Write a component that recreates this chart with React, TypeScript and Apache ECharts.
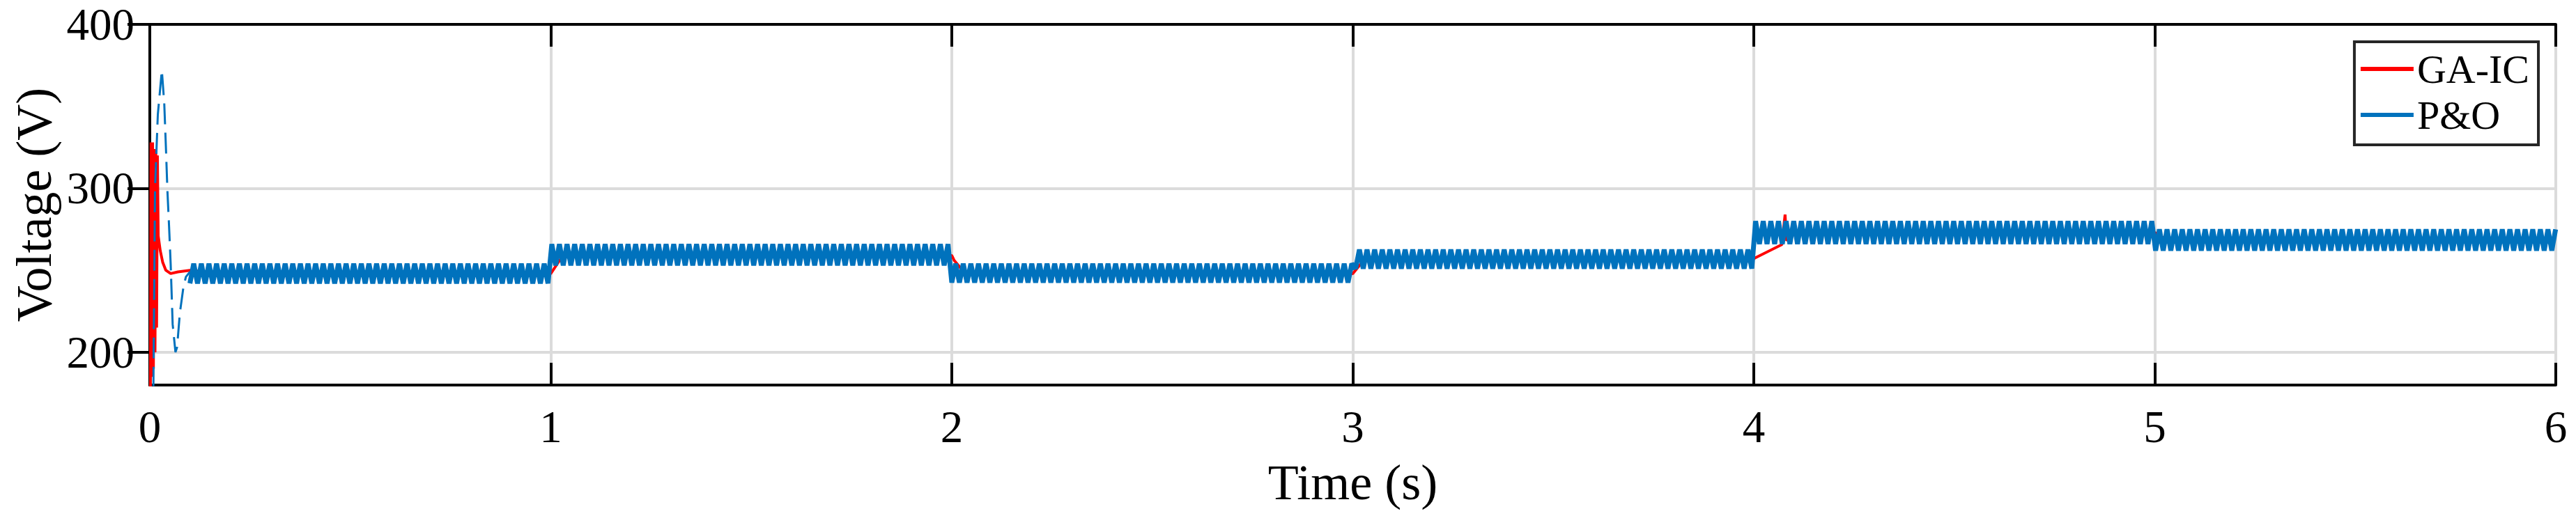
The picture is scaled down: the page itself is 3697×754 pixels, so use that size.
import React, { useEffect, useRef } from "react";
import * as echarts from "echarts";

// ---- axis ticks ----
const X_TICKS = [0, 1, 2, 3, 4, 5, 6];
const Y_TICKS = [200, 300, 400];
const Y_GRID = [200, 300];
const Y_MIN = 180;
const Y_MAX = 400;

// ---- GA-IC (red) keyframes: time (s) and voltage (V) ----
const GA_IC_T = [0, 0.003, 0.005, 0.007, 0.009, 0.011, 0.013, 0.015, 0.017, 0.019, 0.021, 0.026, 0.032, 0.04, 0.052, 0.07, 0.1, 0.2, 1.0, 1.03, 2.0, 2.006, 2.03, 2.05, 3.0, 3.03, 4.0, 4.003, 4.07, 4.078, 4.082, 4.09, 4.12, 5.0, 5.03, 6.0];
const GA_IC_V = [0, 328, 185, 328, 190, 324, 200, 322, 215, 320, 271, 262, 255, 250, 248, 249, 250, 248, 248, 259, 259, 256, 249, 248, 248, 257, 257, 257.5, 265.7, 284, 268, 271, 273, 273, 268.6, 268.6];

// ---- P&O (blue) start-up transient ----
const PO_START_T = [0, 0.009, 0.013, 0.02, 0.03, 0.036, 0.04, 0.044, 0.048, 0.052, 0.057, 0.064, 0.068, 0.075, 0.084, 0.09, 0.1];
const PO_START_V = [0, 180, 300, 345, 372, 352, 326, 298, 277, 254, 217, 200, 203, 224, 240, 246, 249];

// ---- P&O (blue) steady oscillation band per irradiance step ----
const PO_SEG_START = [0.1, 1, 2, 3, 4, 5];
const PO_LOW = [242, 253, 242.5, 251, 266, 262];
const PO_HIGH = [254, 266, 254, 262.6, 280, 275];
const PO_HALF_PERIOD = 0.0095; // perturbation step seen in the picture
const T_END = 6;

const FONT = "'Liberation Serif', 'Times New Roman', serif";

function buildPO(): number[][] {
  const pts: number[][] = [];
  let k = 0;
  for (let t = PO_SEG_START[0]; t <= T_END + 1e-9; t += PO_HALF_PERIOD) {
    let s = 0;
    for (let i = 0; i < PO_SEG_START.length; i++) if (t >= PO_SEG_START[i]) s = i;
    pts.push([t, k % 2 === 0 ? PO_LOW[s] : PO_HIGH[s]]);
    k++;
  }
  return pts;
}

export default function App() {
  const ref = useRef<HTMLDivElement>(null);
  useEffect(() => {
    if (!ref.current) return;
    const chart = echarts.init(ref.current, undefined, { renderer: "svg" });
    const red = GA_IC_T.map((t, i) => [t, GA_IC_V[i]]);
    const blueStart = PO_START_T.map((t, i) => [t, PO_START_V[i]]);
    const blue = buildPO();

    const frame = { show: true, lineStyle: { color: "#000", width: 4 } };
    const tick = { show: true, inside: true, length: 32, lineStyle: { color: "#000", width: 4 } };

    chart.setOption({
      animation: false,
      backgroundColor: "#fff",
      grid: { left: 215, right: 29, top: 35, bottom: 201, containLabel: false },
      legend: {
        data: [
          { name: "GA-IC", icon: "rect" },
          { name: "P&O", icon: "rect" },
        ],
        orient: "vertical",
        right: 54,
        top: 60,
        itemWidth: 76,
        itemHeight: 6,
        itemGap: 0,
        padding: [6, 13, 10, 9],
        borderColor: "#262626",
        borderWidth: 4,
        backgroundColor: "#fff",
        textStyle: { fontFamily: FONT, fontSize: 58, color: "#000", lineHeight: 66 },
      },
      xAxis: [
        {
          type: "value",
          min: 0,
          max: 6,
          interval: 1,
          position: "bottom",
          axisLine: frame,
          axisTick: tick,
          axisLabel: { fontFamily: FONT, fontSize: 65, color: "#000", margin: 27 },
          splitLine: { show: true, lineStyle: { color: "#dbdbdb", width: 4 } },
          name: "Time (s)",
          nameLocation: "middle",
          nameGap: 104,
          nameTextStyle: { fontFamily: FONT, fontSize: 72, color: "#000" },
        },
        {
          type: "value",
          min: 0,
          max: 6,
          interval: 1,
          position: "top",
          axisLine: frame,
          axisTick: tick,
          axisLabel: { show: false },
          splitLine: { show: false },
        },
      ],
      yAxis: [
        {
          type: "value",
          min: Y_MIN,
          max: Y_MAX,
          position: "left",
          axisLine: frame,
          axisTick: { ...tick, customValues: Y_TICKS },
          axisLabel: { fontFamily: FONT, fontSize: 65, color: "#000", margin: 22, customValues: Y_TICKS },
          splitLine: { show: false },
          name: "Voltage (V)",
          nameLocation: "middle",
          nameGap: 122,
          nameTextStyle: { fontFamily: FONT, fontSize: 72, color: "#000" },
        },
        {
          type: "value",
          min: Y_MIN,
          max: Y_MAX,
          position: "right",
          axisLine: frame,
          axisTick: { ...tick, customValues: Y_TICKS },
          axisLabel: { show: false },
          splitLine: { show: false },
        },
      ],
      series: [
        {
          name: "GA-IC",
          type: "line",
          data: red,
          showSymbol: false,
          clip: true,
          z: 2,
          color: "#ff0000",
          lineStyle: { color: "#ff0000", width: 4, join: "bevel" },
          markLine: {
            silent: true,
            symbol: "none",
            z: 1,
            label: { show: false },
            lineStyle: { color: "#dbdbdb", width: 4, type: "solid" },
            data: Y_GRID.map((v) => ({ yAxis: v })),
          },
        },
        {
          name: "P&O",
          type: "line",
          data: blue,
          showSymbol: false,
          clip: true,
          z: 3,
          color: "#0072bd",
          lineStyle: { color: "#0072bd", width: 7, join: "bevel" },
        },
        {
          name: "P&O",
          type: "line",
          data: blueStart,
          showSymbol: false,
          clip: true,
          z: 3,
          color: "#0072bd",
          lineStyle: { color: "#0072bd", width: 3, type: [30, 12] },
        },
      ],
    });
    return () => chart.dispose();
  }, []);
  return (
    <div
      ref={ref}
      style={{ position: "absolute", left: 0, top: 0, width: 3697, height: 754, background: "#fff" }}
    />
  );
}
